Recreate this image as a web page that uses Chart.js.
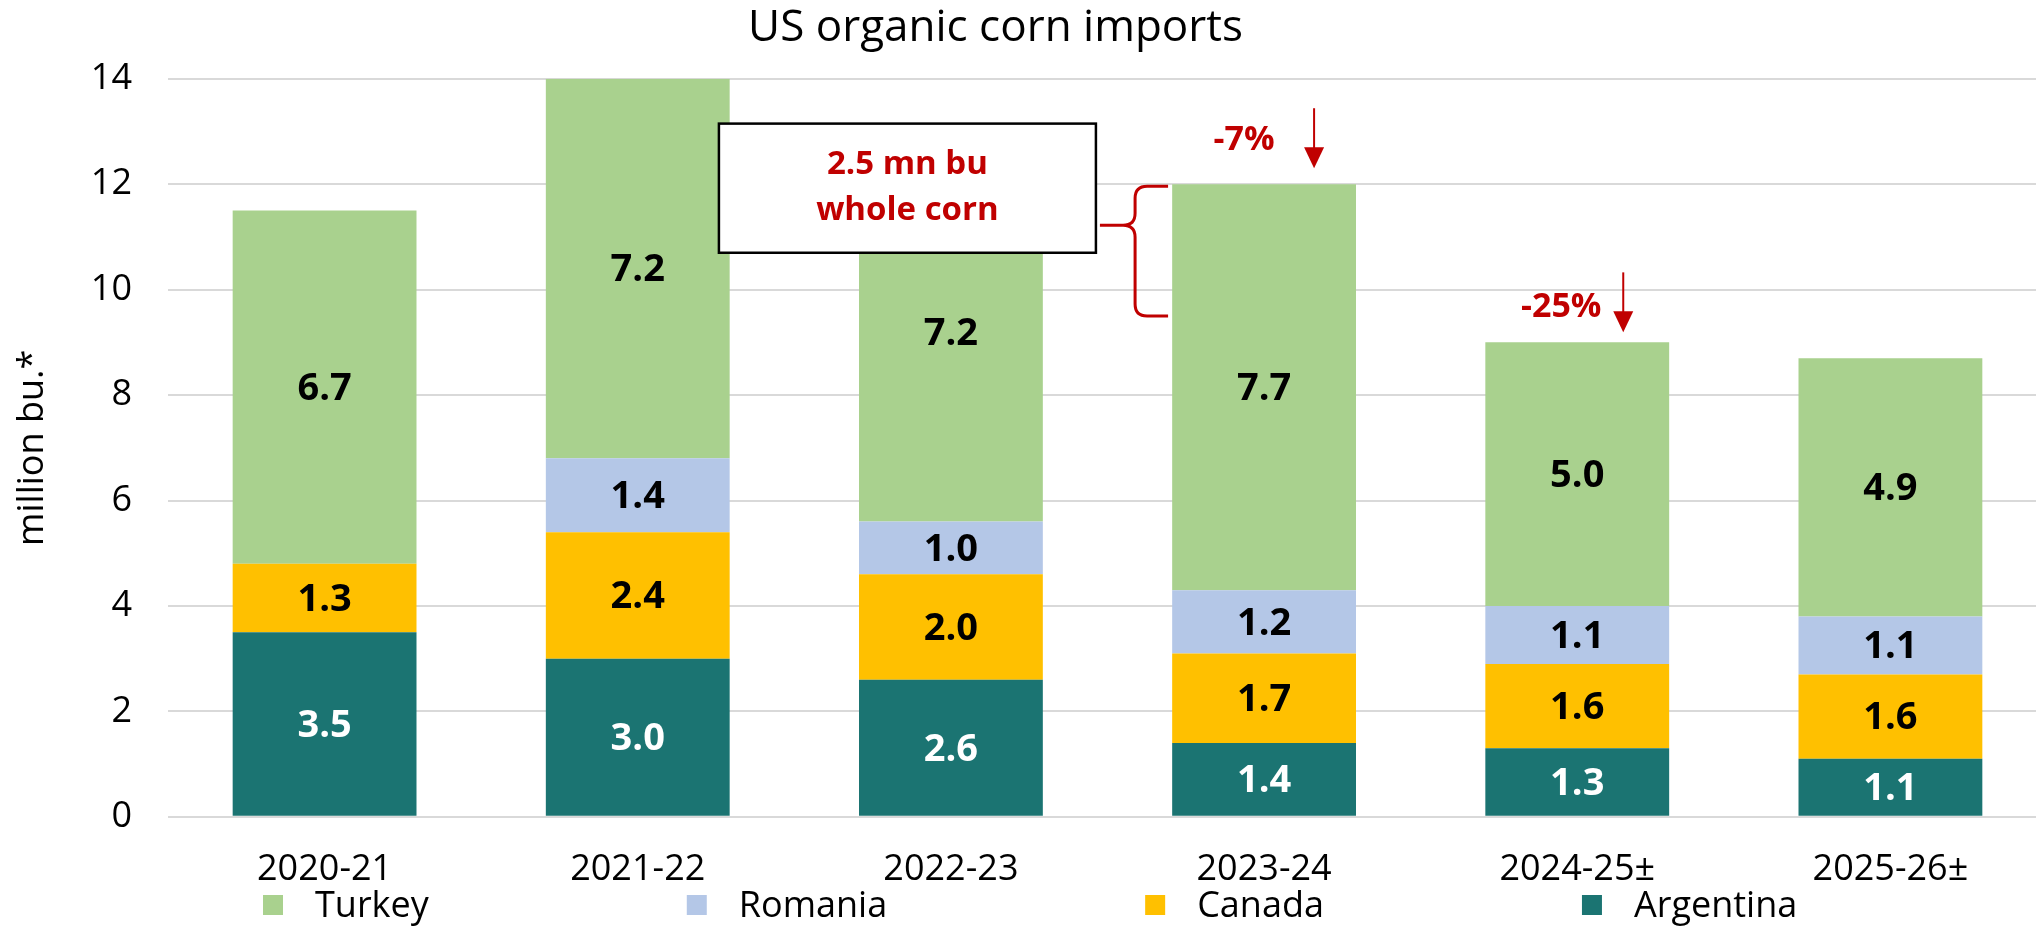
<!DOCTYPE html>
<html lang="en">
<head>
<meta charset="UTF-8">
<title>US organic corn imports</title>
<script src="https://cdn.jsdelivr.net/npm/chart.js"></script>
<style>
    html, body { margin: 0; padding: 0; background: #fff; overflow: hidden; }
    canvas { display: block; }
</style>
</head>
<body>
<canvas id="cornChart" width="2048" height="926"></canvas>
<script>
// chart data
const years = ['2020-21', '2021-22', '2022-23', '2023-24', '2024-25±', '2025-26±'];
const argentina = [3.5, 3.0, 2.6, 1.4, 1.3, 1.1];
const canada = [1.3, 2.4, 2.0, 1.7, 1.6, 1.6];
const romania = [null, 1.4, 1.0, 1.2, 1.1, 1.1];
const turkey = [6.7, 7.2, 7.2, 7.7, 5.0, 4.9];
const yTicks = [0, 2, 4, 6, 8, 10, 12, 14];
const wholeCorn = 2.5;                 // bracketed part of the 2023-24 bar
const changeYears = [3, 4];            // bars that get a change arrow
const changeTexts = ['-7%', '-25%'];

const FONT = "'Open Sans', sans-serif";
const RED = '#C00000';

function total(i) {
    return argentina[i] + canada[i] + (romania[i] || 0) + turkey[i];
}

// value labels in the middle of each segment
const barLabels = {
    id: 'barLabels',
    afterDatasetsDraw(chart) {
        const ctx = chart.ctx;
        ctx.save();
        ctx.font = 'bold 38px ' + FONT;
        ctx.textAlign = 'center';
        ctx.textBaseline = 'middle';
        chart.data.datasets.forEach((ds, i) => {
            chart.getDatasetMeta(i).data.forEach((bar, j) => {
                const v = ds.data[j];
                if (v == null) return;
                const p = bar.getProps(['x', 'y', 'base'], true);
                ctx.fillStyle = ds.labelColor;
                ctx.fillText(v.toFixed(1), p.x, (p.y + p.base) / 2 + 2);
            });
        });
        ctx.restore();
    }
};

// callout box, brace and the change arrows
const notes = {
    id: 'notes',
    afterDatasetsDraw(chart) {
        const { ctx, scales: { x, y } } = chart;
        ctx.save();

        // box
        const bx = x.getPixelForValue(2);
        const left = bx - 232, right = bx + 145;
        const top = y.getPixelForValue(13.15), bottom = y.getPixelForValue(10.7);
        ctx.fillStyle = '#fff';
        ctx.fillRect(left, top, right - left, bottom - top);
        ctx.strokeStyle = '#000';
        ctx.lineWidth = 2.5;
        ctx.strokeRect(left, top, right - left, bottom - top);
        ctx.fillStyle = RED;
        ctx.font = 'bold 33px ' + FONT;
        ctx.textAlign = 'center';
        ctx.textBaseline = 'middle';
        ctx.fillText(wholeCorn + ' mn bu', (left + right) / 2, top + 41);
        ctx.fillText('whole corn', (left + right) / 2, top + 87);

        // brace on the 2023-24 bar
        const cx = x.getPixelForValue(3);
        const yTop = y.getPixelForValue(total(3)) + 2;
        const yBot = y.getPixelForValue(total(3) - wholeCorn);
        const tipY = yTop + 0.3 * (yBot - yTop);
        const xTip = right + 4, xSpine = cx - 129, xEnd = cx - 96, r = 12;
        ctx.strokeStyle = RED;
        ctx.lineWidth = 3;
        ctx.beginPath();
        ctx.moveTo(xTip, tipY);
        ctx.lineTo(xSpine - r, tipY);
        ctx.quadraticCurveTo(xSpine, tipY, xSpine, tipY - r);
        ctx.lineTo(xSpine, yTop + r);
        ctx.quadraticCurveTo(xSpine, yTop, xSpine + r, yTop);
        ctx.lineTo(xEnd, yTop);
        ctx.moveTo(xSpine - r, tipY);
        ctx.quadraticCurveTo(xSpine, tipY, xSpine, tipY + r);
        ctx.lineTo(xSpine, yBot - r);
        ctx.quadraticCurveTo(xSpine, yBot, xSpine + r, yBot);
        ctx.lineTo(xEnd, yBot);
        ctx.stroke();

        // change arrows
        const offs = [{ tx: -20, ty: 44, ax: 50, a1: 76, a2: 16 },
                      { tx: -16, ty: 35, ax: 46, a1: 70, a2: 10 }];
        ctx.font = 'bold 34px ' + FONT;
        changeYears.forEach((idx, k) => {
            const o = offs[k];
            const px = x.getPixelForValue(idx);
            const py = y.getPixelForValue(total(idx));
            ctx.fillStyle = RED;
            ctx.fillText(changeTexts[k], px + o.tx, py - o.ty);
            const ax = px + o.ax, y1 = py - o.a1, y2 = py - o.a2;
            ctx.lineWidth = 2;
            ctx.beginPath();
            ctx.moveTo(ax, y1);
            ctx.lineTo(ax, y2 - 18);
            ctx.stroke();
            ctx.beginPath();
            ctx.moveTo(ax - 10, y2 - 21);
            ctx.lineTo(ax + 10, y2 - 21);
            ctx.lineTo(ax, y2);
            ctx.closePath();
            ctx.fill();
        });
        ctx.restore();
    }
};

// legend row at the bottom, top series first
const legendRow = {
    id: 'legendRow',
    afterDraw(chart) {
        const ctx = chart.ctx;
        ctx.save();
        ctx.font = '36px ' + FONT;
        ctx.textBaseline = 'middle';
        ctx.textAlign = 'left';
        let xPos = 263;
        const yMid = 905;
        chart.data.datasets.slice().reverse().forEach(ds => {
            ctx.fillStyle = ds.backgroundColor;
            ctx.fillRect(xPos, yMid - 10, 20, 20);
            ctx.fillStyle = '#000';
            ctx.fillText(ds.label, xPos + 52, yMid + 2);
            xPos += 52 + ctx.measureText(ds.label).width + 258;
        });
        ctx.restore();
    }
};

// title sits a little left of the canvas centre
const titleShift = {
    id: 'titleShift',
    afterLayout(chart) {
        chart.titleBlock.left -= 56;
    }
};

function draw() {
    const ctx = document.getElementById('cornChart').getContext('2d');
    new Chart(ctx, {
        type: 'bar',
        data: {
            labels: years,
            datasets: [
                { label: 'Argentina', data: argentina, backgroundColor: '#1B7472', labelColor: '#fff' },
                { label: 'Canada', data: canada, backgroundColor: '#FFC000', labelColor: '#000' },
                { label: 'Romania', data: romania, backgroundColor: '#B4C7E7', labelColor: '#000' },
                { label: 'Turkey', data: turkey, backgroundColor: '#A9D18E', labelColor: '#000' }
            ]
        },
        options: {
            responsive: false,
            animation: false,
            layout: { padding: { left: 0, right: 1, top: 0, bottom: 12 } },
            datasets: { bar: { barPercentage: 0.587, categoryPercentage: 1, borderWidth: 0 } },
            scales: {
                x: {
                    stacked: true,
                    grid: { display: false },
                    border: { display: false },
                    ticks: { color: '#000', font: { family: FONT, size: 36 }, padding: 23, maxRotation: 0 }
                },
                y: {
                    stacked: true,
                    min: 0,
                    max: 14,
                    afterBuildTicks: s => { s.ticks = yTicks.map(v => ({ value: v })); },
                    afterFit: s => { s.width = 168; },
                    grid: { color: '#D9D9D9', lineWidth: 2, drawTicks: false },
                    border: { display: false },
                    ticks: { color: '#000', font: { family: FONT, size: 36 }, padding: 36 },
                    title: {
                        display: true,
                        text: 'million bu.*',
                        color: '#000',
                        font: { family: FONT, size: 36 },
                        padding: { top: 11, bottom: 0 }
                    }
                }
            },
            plugins: {
                legend: { display: false },
                tooltip: { enabled: false },
                title: {
                    display: true,
                    text: 'US organic corn imports',
                    color: '#000',
                    font: { family: FONT, size: 44, weight: 'normal' },
                    padding: { top: 2, bottom: 24 }
                }
            }
        },
        plugins: [barLabels, notes, legendRow, titleShift]
    });
}

Promise.all([
    document.fonts.load('36px ' + FONT),
    document.fonts.load('bold 36px ' + FONT)
]).then(draw, draw);
</script>
</body>
</html>
